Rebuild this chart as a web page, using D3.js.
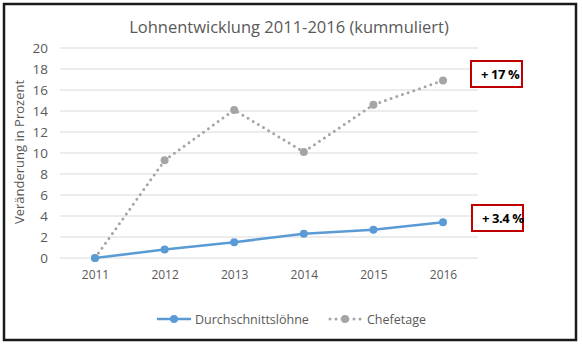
<!DOCTYPE html>
<html><head><meta charset="utf-8">
<script src="https://cdn.jsdelivr.net/npm/d3@7"></script>
<style>body{margin:0;background:#fff}svg{display:block}</style>
</head><body>
<svg id="c" width="582" height="345"></svg>
<script>
const years = ["2011","2012","2013","2014","2015","2016"];
const durchschnitt = [0, 0.8, 1.5, 2.3, 2.7, 3.4];
const chefetage = [0, 9.3, 14.1, 10.1, 14.6, 16.9];
const yTicks = [0,2,4,6,8,10,12,14,16,18,20];
const seriesNames = ["Durchschnittslöhne","Chefetage"];
const annotations = ["+ 17 %", "+ 3.4 %"];
const title = "Lohnentwicklung 2011-2016 (kummuliert)";
const yTitle = "Veränderung in Prozent";

const font = "'Open Sans', 'Noto Sans', sans-serif";
const svg = d3.select("#c");
svg.append("rect").attr("x",4).attr("y",4).attr("width",572).attr("height",336)
  .attr("fill","#fff").attr("stroke","#1a1a1a").attr("stroke-width",2.5);

const x = d3.scalePoint().domain(years).range([95, 443]);
const y = d3.scaleLinear().domain([0,20]).range([258, 48]);

// gridlines
svg.append("g").selectAll("line").data(yTicks).join("line")
  .attr("x1",60).attr("x2",478).attr("y1",d=>y(d)).attr("y2",d=>y(d))
  .attr("stroke","#d9d9d9").attr("stroke-width",1);

// y axis labels
const yAxis = svg.append("g").attr("transform","translate(52,0)")
  .call(d3.axisLeft(y).tickValues(yTicks).tickSize(0).tickPadding(4));
yAxis.select(".domain").remove();
yAxis.selectAll("text").attr("font-family",font).attr("font-size",13.5).attr("fill","#595959");

// x axis labels
const xAxis = svg.append("g").attr("transform","translate(0,266)")
  .call(d3.axisBottom(x).tickSize(0).tickPadding(4));
xAxis.select(".domain").remove();
xAxis.selectAll("text").attr("font-family",font).attr("font-size",12).attr("fill","#595959");

// title
svg.append("text").attr("x",289).attr("y",33).attr("text-anchor","middle")
  .attr("font-family",font).attr("font-size",16.5).attr("fill","#595959").text(title);

// y title
svg.append("text").attr("transform","translate(24,152) rotate(-90)").attr("text-anchor","middle")
  .attr("font-family",font).attr("font-size",13).attr("fill","#595959").text(yTitle);

const line = d3.line().x((d,i)=>x(years[i])).y(d=>y(d));

// chefetage dotted
svg.append("path").datum(chefetage).attr("d",line).attr("fill","none")
  .attr("stroke","#a5a5a5").attr("stroke-width",3).attr("stroke-linecap","round")
  .attr("stroke-dasharray","0 6");
svg.append("g").selectAll("circle").data(chefetage).join("circle")
  .attr("cx",(d,i)=>x(years[i])).attr("cy",d=>y(d)).attr("r",4).attr("fill","#a5a5a5");

// durchschnitt
svg.append("path").datum(durchschnitt).attr("d",line).attr("fill","none")
  .attr("stroke","#5b9bd5").attr("stroke-width",2.5);
svg.append("g").selectAll("circle").data(durchschnitt).join("circle")
  .attr("cx",(d,i)=>x(years[i])).attr("cy",d=>y(d)).attr("r",4).attr("fill","#5b9bd5");

// annotations
const ann = [
  {t: annotations[0], v: chefetage[5], bx:471, by:61},
  {t: annotations[1], v: durchschnitt[5], bx:472, by:205}
];
ann.forEach(a=>{
  svg.append("rect").attr("x",a.bx).attr("y",a.by).attr("width",51).attr("height",26)
    .attr("fill","#fff").attr("stroke","#c00000").attr("stroke-width",2);
  svg.append("text").attr("x",a.bx+10).attr("y",a.by+18).attr("font-family",font)
    .attr("font-weight","bold").attr("font-size",13).attr("letter-spacing",-0.4).attr("fill","#000").text(a.t);
});

// legend
const lg = svg.append("g").attr("transform","translate(0,319)");
lg.append("line").attr("x1",157).attr("x2",191).attr("y1",0).attr("y2",0)
  .attr("stroke","#5b9bd5").attr("stroke-width",2.5);
lg.append("circle").attr("cx",174).attr("cy",0).attr("r",4).attr("fill","#5b9bd5");
lg.append("text").attr("x",195).attr("y",4.5).attr("font-family",font).attr("font-size",12.5)
  .attr("fill","#595959").text(seriesNames[0]);
lg.append("line").attr("x1",330).attr("x2",362).attr("y1",0).attr("y2",0)
  .attr("stroke","#a5a5a5").attr("stroke-width",3).attr("stroke-linecap","round").attr("stroke-dasharray","0 6");
lg.append("circle").attr("cx",345).attr("cy",0).attr("r",4).attr("fill","#a5a5a5");
lg.append("text").attr("x",367).attr("y",4.5).attr("font-family",font).attr("font-size",12.5)
  .attr("fill","#595959").text(seriesNames[1]);
</script>
</body></html>
